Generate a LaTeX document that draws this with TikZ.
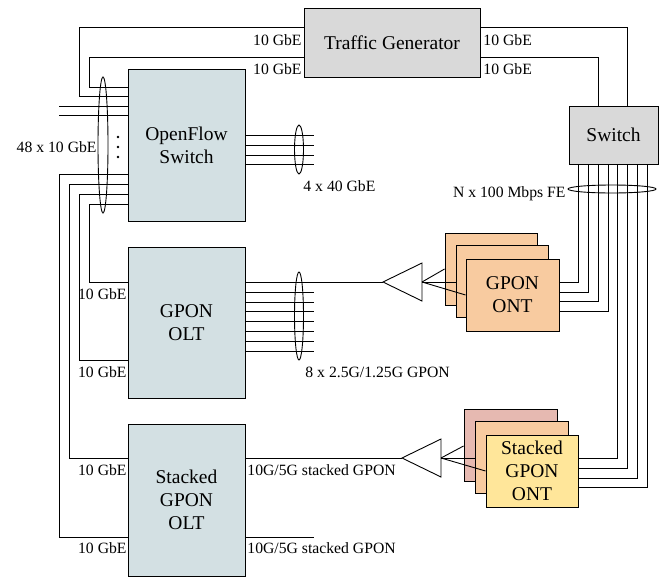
\documentclass[tikz,border=0pt]{standalone}
\usepackage{fontspec}
\setmainfont{Liberation Serif}
\definecolor{oltc}{HTML}{D3E0E3}
\definecolor{greyc}{HTML}{D9D9D9}
\definecolor{peach}{HTML}{F8CBA0}
\definecolor{pinkc}{HTML}{E6B9B1}
\definecolor{yellowc}{HTML}{FFE69A}
\begin{document}
\begin{tikzpicture}[x=1pt,y=-1pt, line width=0.9pt,
  box/.style={draw, line width=0.9pt, inner sep=0pt, align=center, font=\fontsize{19.5}{23}\selectfont},
  oltbox/.style={box, fill=oltc, minimum width=117pt, minimum height=152pt},
  ontbox/.style={box, minimum width=92pt, minimum height=72pt},
  lbl/.style={inner sep=0pt, font=\fontsize{15.7}{18}\selectfont}]
\useasboundingbox (0,0) rectangle (660,578);

% ---- main boxes
\node[box, fill=greyc, minimum width=176pt, minimum height=69pt] (tg) at (392,42.5) {Traffic Generator};
\node[box, fill=greyc, minimum width=89pt, minimum height=58pt] (sw) at (613.5,135) {Switch};
\node[oltbox] (of) at (186.5,145) {OpenFlow\\Switch};
\node[oltbox, minimum height=151pt] (olt) at (186.5,322.5) {GPON\\OLT};
\node[oltbox] (solt) at (186.5,500) {Stacked\\GPON\\OLT};

% ---- ONT stacks
\node[ontbox, fill=peach] (ont3) at (491,269) {};
\node[ontbox, fill=peach] (ont2) at (502,281) {};
\node[ontbox, fill=peach, minimum width=93pt] (ont1) at (512.5,295) {GPON\\ONT};
\node[ontbox, fill=pinkc, minimum width=93pt] (sont3) at (510.5,445) {};
\node[ontbox, fill=peach, minimum width=93pt] (sont2) at (521.5,457.5) {};
\node[ontbox, fill=yellowc] (sont1) at (532,471) {Stacked\\GPON\\ONT};

% ---- splitters
\coordinate (sp1tip) at (383,282);
\coordinate (sp1out) at (422,282);
\draw[fill=white] (sp1tip) -- (422,263) -- (422,301) -- cycle;
\coordinate (sp2tip) at (402,458);
\coordinate (sp2out) at (441,458);
\draw[fill=white] (sp2tip) -- (441,439) -- (441,477) -- cycle;

% ---- traffic generator links
\draw (tg.west |- 0,27) -| (79,96) -- (of.west |- 0,96);
\draw (tg.west |- 0,57) -| (89,87) -- (of.west |- 0,87);
\draw (tg.east |- 0,27) -| (sw.north -| 627,0);
\draw (tg.east |- 0,57) -| (sw.north -| 598,0);

% ---- free 10 GbE ports of OpenFlow switch
\coordinate (p1) at (59,106);
\coordinate (p2) at (59,115);
\draw (p1) -- (of.west |- p1);
\draw (p2) -- (of.west |- p2);

% ---- OpenFlow switch to OLTs
\draw (of.west |- 0,174) -| (59,537) -- (solt.west |- 0,537);
\draw (of.west |- 0,184) -| (69,458) -- (solt.west |- 0,458);
\draw (of.west |- 0,194) -| (79,360) -- (olt.west |- 0,360);
\draw (of.west |- 0,204) -| (89,282) -- (olt.west |- 0,282);

% ---- 4 x 40 GbE
\foreach \y in {135,145,155,164} { \coordinate (q) at (314,\y); \draw (of.east |- q) -- (q); }
% ---- 8 x GPON
\draw (olt.east |- sp1tip) -- (sp1tip);
\foreach \y in {292,302,311,321,331,341,351} { \coordinate (q) at (314,\y); \draw (olt.east |- q) -- (q); }
% ---- stacked GPON
\draw (solt.east |- sp2tip) -- (sp2tip);
\coordinate (q2) at (314,537);
\draw (solt.east |- q2) -- (q2);

% ---- splitter to ONTs
\draw (sp1out) -- (ont3.west |- 0,269);
\draw (sp1out) -- (ont2.west |- 0,282);
\draw (sp1out) -- (ont1.west |- 0,295);
\draw (sp2out) -- (sont3.west |- 0,446);
\draw (sp2out) -- (sont2.west |- 0,458);
\draw (sp2out) -- (sont1.west |- 0,471);

% ---- ONTs to switch
\draw (ont1.east |- 0,282) -| (sw.south -| 578,0);
\draw (ont1.east |- 0,292) -| (sw.south -| 588,0);
\draw (ont1.east |- 0,301) -| (sw.south -| 598,0);
\draw (ont1.east |- 0,311) -| (sw.south -| 608,0);
\draw (sont1.east |- 0,458) -| (sw.south -| 617,0);
\draw (sont1.east |- 0,468) -| (sw.south -| 627,0);
\draw (sont1.east |- 0,478) -| (sw.south -| 637,0);
\draw (sont1.east |- 0,487) -| (sw.south -| 647,0);

% ---- bundle ellipses
\draw (103,145) ellipse [x radius=5, y radius=68];
\draw (299,149.5) ellipse [x radius=4.5, y radius=24.5];
\draw (299,316) ellipse [x radius=4.5, y radius=44];
\draw (612,189) ellipse [x radius=44, y radius=4];

% ---- dots
\foreach \y in {137,147,157} \fill (118,\y) circle (1.3);

% ---- labels
\node[lbl, anchor=east] at (302,40) {10 GbE};
\node[lbl, anchor=east] at (302,69) {10 GbE};
\node[lbl, anchor=west] at (483,40) {10 GbE};
\node[lbl, anchor=west] at (483,69) {10 GbE};
\node[lbl, anchor=east] at (97,147) {48 x 10 GbE};
\node[lbl, anchor=west] at (303,186) {4 x 40 GbE};
\node[lbl, anchor=east] at (566,194) {N x 100 Mbps FE};
\node[lbl, anchor=east] at (127,294) {10 GbE};
\node[lbl, anchor=east] at (127,372) {10 GbE};
\node[lbl, anchor=west] at (305,372) {8 x 2.5G/1.25G GPON};
\node[lbl, anchor=east] at (127,470) {10 GbE};
\node[lbl, anchor=east] at (127,548) {10 GbE};
\node[lbl, anchor=west] at (247,470) {10G/5G stacked GPON};
\node[lbl, anchor=west] at (247,548) {10G/5G stacked GPON};
\end{tikzpicture}
\end{document}
